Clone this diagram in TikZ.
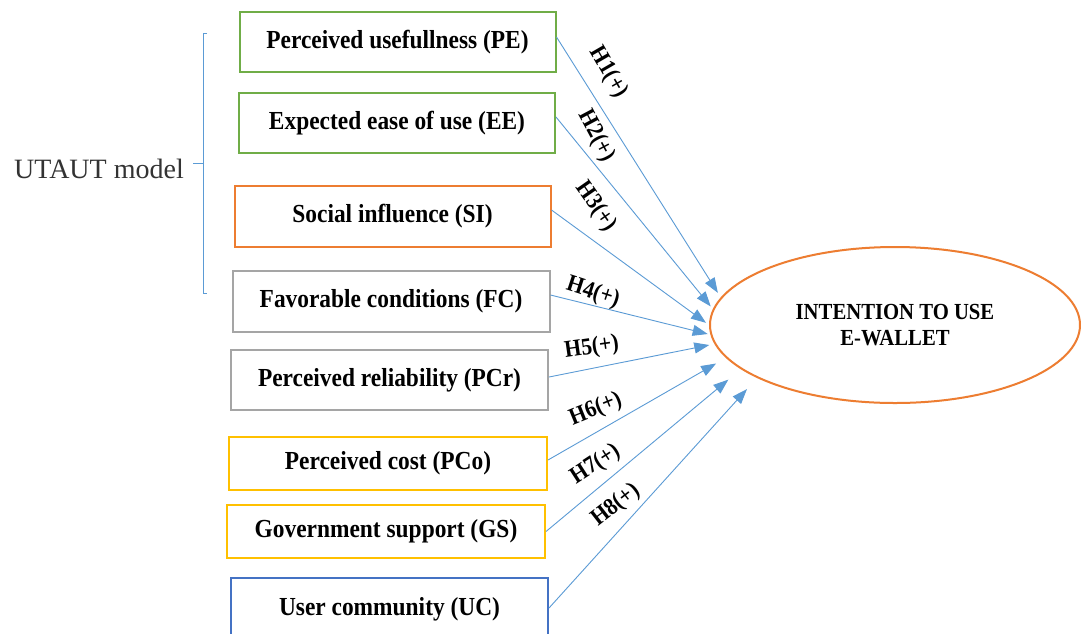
\documentclass[tikz,border=0pt]{standalone}
\usepackage{fontspec}
\setmainfont{Liberation Serif}
\newfontfamily\boxfont[FakeStretch=0.9]{Liberation Serif}
\usepackage{xcolor}
\usepackage{tikz}
\usetikzlibrary{arrows.meta, shapes.geometric}
\definecolor{boxgreen}{RGB}{112, 173, 71}
\definecolor{boxorange}{RGB}{237, 125, 49}
\definecolor{boxgray}{RGB}{165, 165, 165}
\definecolor{boxyellow}{RGB}{255, 192, 0}
\definecolor{boxblue}{RGB}{68, 114, 196}
\definecolor{arrowblue}{RGB}{91, 155, 213}

\begin{document}
\begin{tikzpicture}[
    x=1pt, y=-1pt,
    box/.style={rectangle, draw=#1, line width=2pt, minimum width=316pt, minimum height=60pt, align=center, font=\boxfont\fontsize{26}{30}\selectfont\bfseries},
    hyp/.style={inner sep=0pt, font=\boxfont\fontsize{24}{28}\selectfont\bfseries},
    arrow/.style={-{Triangle[length=15pt, width=11pt]}, line width=0.9pt, arrowblue},
    brace/.style={line width=0.9pt, arrowblue}
]
    \fill[white] (0,0) rectangle (1081,633);
    \useasboundingbox (0,0) rectangle (1081,633);

    % UTAUT group
    \node[font=\fontsize{28}{32}\selectfont, text=black!80] (utaut) at (99,168.5) {UTAUT model};
    \coordinate (bracemid) at (203,163);
    \draw[brace] (207,33) -- (203,33) -- (203,293) -- (207,293);
    \draw[brace] (bracemid) -- ++(-10,0);

    % factors
    \node[box=boxgreen] (pe) at (397.5,42) {Perceived usefullness (PE)};
    \node[box=boxgreen] (ee) at (397,123) {Expected ease of use (EE)};
    \node[box=boxorange, minimum height=61pt] (si) at (392.5,216.5) {Social influence (SI)};
    \node[box=boxgray, minimum width=317pt, minimum height=61pt] (fc) at (391,301.5) {Favorable conditions (FC)};
    \node[box=boxgray, minimum width=317pt] (pcr) at (389.5,380) {Perceived reliability (PCr)};
    \node[box=boxyellow, minimum width=318pt, minimum height=53pt] (pco) at (388,463.5) {Perceived cost (PCo)};
    \node[box=boxyellow, minimum width=318pt, minimum height=53pt] (gs) at (386,531.5) {Government support (GS)};
    \node[box=boxblue, minimum width=317pt, minimum height=62pt] (uc) at (389.5,609) {User community (UC)};

    % outcome
    \node[ellipse, draw=boxorange, line width=2pt, minimum width=370pt, minimum height=156pt, inner sep=0pt, align=center, font=\boxfont\fontsize{23}{26}\selectfont\bfseries] (intent) at (895,325) {INTENTION TO USE\\E-WALLET};

    % hypotheses
    \draw[arrow, shorten >=5.4pt] ([yshift=5pt]pe.east) -- (intent.171);
    \draw[arrow, shorten >=3.4pt] ([yshift=6pt]ee.east) -- (intent.175);
    \draw[arrow, shorten >=3.7pt] ([yshift=6.5pt]si.east) -- (intent.180);
    \draw[arrow, shorten >=2.8pt] ([yshift=6.5pt]fc.east) -- (intent.183);
    \draw[arrow, shorten >=5.3pt] ([yshift=3pt]pcr.east) -- (intent.186);
    \draw[arrow, shorten >=11.3pt] ([yshift=3.5pt]pco.east) -- (intent.191);
    \draw[arrow, shorten >=16.3pt] (gs.east) -- (intent.196);
    \draw[arrow, shorten >=15pt] ([yshift=1pt]uc.east) -- (intent.201);

    \node[hyp, rotate=-60] (h1) at (608.5,72.5) {H1(+)};
    \node[hyp, rotate=-62] (h2) at (596,136) {H2(+)};
    \node[hyp, rotate=-55] (h3) at (596,206.5) {H3(+)};
    \node[hyp, rotate=-18] (h4) at (593,292.7) {H4(+)};
    \node[hyp, rotate=8] (h5) at (591.7,348) {H5(+)};
    \node[hyp, rotate=22] (h6) at (595.8,409.5) {H6(+)};
    \node[hyp, rotate=33] (h7) at (595.8,464.5) {H7(+)};
    \node[hyp, rotate=38] (h8) at (616,505.5) {H8(+)};
\end{tikzpicture}
\end{document}
